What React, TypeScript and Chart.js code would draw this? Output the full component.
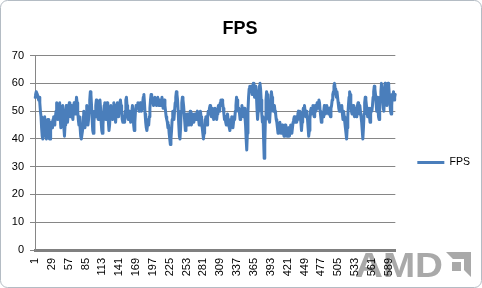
import React, { useEffect, useRef } from "react";
import { Chart, registerables } from "chart.js";

Chart.register(...registerables);

// FPS samples (one per frame index, 1..600)
const fps: number[] = [
  55, 56, 57, 57, 56, 55, 54, 55, 53, 50,
  48, 44, 41, 40, 44, 47, 48, 45, 41, 40,
  43, 47, 47, 44, 40, 40, 43, 46, 45, 44,
  47, 48, 45, 46, 48, 50, 53, 51, 47, 48,
  52, 53, 47, 44, 46, 50, 52, 48, 44, 41,
  45, 50, 52, 49, 46, 48, 51, 53, 50, 48,
  50, 52, 48, 47, 51, 53, 50, 49, 52, 55,
  53, 50, 47, 45, 48, 44, 41, 40, 40, 43,
  48, 50, 47, 44, 46, 49, 52, 48, 45, 47,
  51, 54, 57, 56, 52, 47, 43, 42, 46, 50,
  48, 52, 54, 53, 50, 47, 49, 52, 54, 51,
  46, 43, 42, 45, 49, 52, 53, 50, 47, 49,
  53, 51, 46, 43, 45, 49, 52, 50, 48, 47,
  50, 53, 51, 48, 46, 49, 52, 53, 50, 48,
  51, 53, 54, 52, 50, 47, 46, 48, 47, 46,
  50, 54, 55, 52, 48, 47, 49, 50, 48, 46,
  47, 50, 52, 49, 45, 43, 46, 50, 52, 51,
  52, 53, 51, 50, 52, 53, 52, 50, 51, 53,
  55, 56, 53, 49, 46, 44, 43, 45, 47, 45,
  48, 51, 54, 56, 55, 53, 54, 52, 53, 55,
  53, 54, 52, 53, 55, 54, 52, 53, 54, 52,
  54, 55, 53, 51, 53, 54, 52, 50, 48, 47,
  46, 44, 45, 42, 40, 38, 40, 43, 47, 50,
  49, 47, 50, 53, 55, 57, 56, 54, 50, 45,
  41, 40, 44, 50, 53, 55, 54, 52, 49, 46,
  43, 44, 47, 49, 47, 45, 46, 48, 50, 47,
  45, 46, 49, 48, 46, 47, 49, 48, 47, 49,
  50, 49, 47, 45, 47, 50, 48, 45, 44, 42,
  40, 42, 45, 47, 48, 46, 45, 48, 50, 49,
  51, 52, 50, 48, 50, 51, 49, 47, 49, 51,
  50, 48, 47, 49, 51, 52, 50, 52, 53, 54,
  52, 54, 53, 51, 49, 47, 48, 46, 45, 47,
  49, 47, 45, 44, 43, 45, 47, 48, 46, 44,
  46, 48, 47, 50, 52, 55, 54, 52, 50, 51,
  49, 47, 48, 50, 52, 50, 48, 49, 51, 48,
  45, 40, 36, 42, 50, 55, 58, 59, 57, 59,
  58, 56, 59, 60, 57, 55, 58, 59, 56, 51,
  47, 50, 56, 59, 60, 58, 54, 49, 46, 48,
  40, 33, 38, 47, 54, 57, 56, 52, 49, 47,
  46, 50, 54, 57, 55, 52, 50, 51, 52, 50,
  49, 47, 46, 44, 42, 43, 45, 46, 44, 42,
  43, 45, 44, 42, 41, 43, 45, 44, 42, 41,
  43, 44, 42, 41, 43, 45, 44, 42, 44, 46,
  47, 48, 46, 47, 48, 46, 47, 49, 50, 48,
  50, 48, 46, 43, 46, 49, 51, 50, 52, 50,
  48, 50, 49, 47, 44, 41, 43, 47, 50, 51,
  49, 51, 52, 50, 48, 51, 52, 50, 51, 53,
  51, 52, 54, 53, 50, 48, 46, 47, 49, 48,
  50, 52, 51, 49, 50, 52, 51, 50, 49, 51,
  50, 48, 51, 52, 54, 56, 57, 59, 60, 58,
  56, 55, 57, 55, 53, 51, 50, 52, 50, 51,
  52, 49, 47, 50, 48, 46, 44, 42, 40, 44,
  48, 52, 55, 57, 56, 53, 50, 49, 51, 52,
  50, 48, 49, 51, 48, 50, 52, 53, 51, 49,
  52, 50, 48, 46, 43, 40, 44, 49, 53, 55,
  54, 52, 50, 48, 49, 51, 48, 46, 49, 51,
  50, 52, 55, 57, 59, 58, 56, 53, 50, 55,
  52, 48, 47, 51, 55, 57, 60, 58, 55, 51,
  50, 56, 60, 58, 55, 52, 55, 60, 59, 56,
  53, 50, 49, 52, 56, 55, 57, 54, 55, 56,
];

const categories: string[] = fps.map((_, i) => String(i + 1));
const labelStep = 28;
const seriesName = "FPS";
const chartTitle = "FPS";
const yMin = 0;
const yMax = 70;
const yStep = 10;

const W = 482;
const H = 288;
const FONT = "'Liberation Sans', Arial, sans-serif";
const LINE_COLOR = "#4a7ebb";

const framePlugin = {
  id: "frame",
  beforeDraw(chart: any) {
    const ctx = chart.ctx as CanvasRenderingContext2D;
    ctx.save();
    ctx.fillStyle = "#ffffff";
    ctx.fillRect(0, 0, W, H);
    // AMD watermark
    ctx.fillStyle = "#a9a9a9";
    ctx.font = `bold 35px ${FONT}`;
    ctx.textBaseline = "alphabetic";
    const text = "AMD";
    const tw = ctx.measureText(text).width;
    ctx.translate(355, 277);
    ctx.scale(88 / tw, 1);
    ctx.fillText(text, 0, 0);
    ctx.restore();
    ctx.save();
    ctx.fillStyle = "#a9a9a9";
    ctx.beginPath();
    ctx.moveTo(446, 252);
    ctx.lineTo(471, 252);
    ctx.lineTo(471, 277);
    ctx.lineTo(464, 270);
    ctx.lineTo(464, 259);
    ctx.lineTo(453, 259);
    ctx.closePath();
    ctx.fill();
    ctx.beginPath();
    ctx.moveTo(452, 262);
    ctx.lineTo(461, 262);
    ctx.lineTo(461, 271);
    ctx.lineTo(452, 271);
    ctx.closePath();
    ctx.fill();
    ctx.restore();
  },
  afterDraw(chart: any) {
    const ctx = chart.ctx as CanvasRenderingContext2D;
    ctx.save();
    ctx.strokeStyle = "#b4bcc4";
    ctx.lineWidth = 1;
    ctx.beginPath();
    (ctx as any).roundRect(0.5, 0.5, W - 1, H - 1, 7);
    ctx.stroke();
    ctx.restore();
  },
};

export default function App() {
  const ref = useRef<HTMLCanvasElement | null>(null);

  useEffect(() => {
    if (!ref.current) return;
    const chart = new Chart(ref.current, {
      type: "line",
      data: {
        labels: categories,
        datasets: [
          {
            label: seriesName,
            data: fps,
            borderColor: LINE_COLOR,
            backgroundColor: LINE_COLOR,
            borderWidth: 3,
            borderJoinStyle: "round",
            borderCapStyle: "round",
            pointRadius: 0,
            tension: 0,
            fill: false,
          },
        ],
      },
      options: {
        responsive: false,
        animation: false,
        layout: { padding: { left: 0, right: 2, top: 0, bottom: 4 } },
        plugins: {
          title: {
            display: true,
            text: chartTitle,
            color: "#000",
            font: { family: FONT, size: 18, weight: "bold" },
            padding: { top: 18, bottom: 16 },
          },
          legend: {
            position: "right",
            title: {
              display: true,
              text: " ",
              font: { family: FONT, size: 1 },
              padding: { top: 20, bottom: 20 },
            },
            labels: {
              boxWidth: 27,
              boxHeight: 3,
              padding: 22,
              color: "#000",
              font: { family: FONT, size: 10.5 },
              generateLabels: (c: any) =>
                Chart.defaults.plugins.legend.labels
                  .generateLabels(c)
                  .map((l: any) => ({ ...l, lineWidth: 0, fillStyle: LINE_COLOR })),
            },
          },
          tooltip: { enabled: false },
        },
        scales: {
          x: {
            type: "category",
            offset: false,
            grid: { display: false, drawTicks: false },
            border: { display: true, color: "#808080", width: 3 },
            ticks: {
              autoSkip: false,
              minRotation: 90,
              maxRotation: 90,
              padding: 8,
              color: "#000",
              font: { family: FONT, size: 11 },
              callback: (_v: any, i: number) =>
                i % labelStep === 0 ? categories[i] : null,
            },
            afterFit: (s: any) => {
              s.height = 34;
            },
          },
          y: {
            min: yMin,
            max: yMax,
            ticks: {
              stepSize: yStep,
              padding: 6,
              color: "#000",
              font: { family: FONT, size: 11 },
            },
            grid: { color: "#868686", tickLength: 5, drawTicks: true },
            border: { color: "#868686" },
            afterFit: (s: any) => {
              s.width = 35;
            },
          },
        },
      } as any,
      plugins: [framePlugin],
    });
    return () => chart.destroy();
  }, []);

  return (
    <div style={{ position: "absolute", left: 0, top: 0, width: W, height: H }}>
      <canvas ref={ref} width={W} height={H} style={{ display: "block", width: W, height: H }} />
    </div>
  );
}
